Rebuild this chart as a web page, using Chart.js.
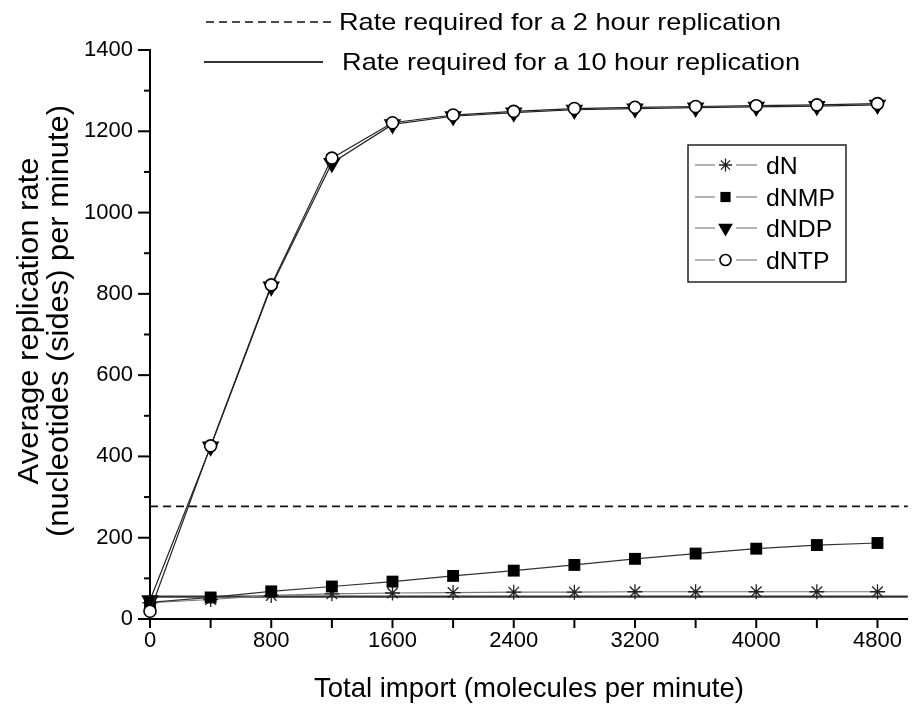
<!DOCTYPE html>
<html>
<head>
<meta charset="utf-8">
<script src="https://cdn.jsdelivr.net/npm/chart.js@4.4.1/dist/chart.umd.min.js"></script>
<style>
html,body{margin:0;padding:0;background:#fff;}
#wrap{width:918px;height:704px;position:relative;}
</style>
</head>
<body>
<div id="wrap"><canvas id="c" width="918" height="704"></canvas></div>
<script>
// ---- data ----
const importX = [0, 400, 800, 1200, 1600, 2000, 2400, 2800, 3200, 3600, 4000, 4400, 4800];
const dN   = [40, 48, 58, 62, 64, 65, 66, 66, 67, 67, 67, 67, 67];
const dNMP = [41, 53, 68, 80, 92, 106, 119, 133, 148, 161, 173, 182, 187];
const dNDP = [46, 424, 818, 1122, 1217, 1237, 1246, 1253, 1256, 1258, 1260, 1262, 1265];
const dNTP = [19, 426, 822, 1134, 1221, 1240, 1249, 1256, 1259, 1261, 1263, 1265, 1268];
const rate2h = 277;
const rate10h = 55;
const xTickLabels = [0, 800, 1600, 2400, 3200, 4000, 4800];
const yTickLabels = [0, 200, 400, 600, 800, 1000, 1200, 1400];
const xMinorStep = 400;
const yMinorStep = 100;
const xRange = [0, 5000];
const yRange = [0, 1400];
const seriesNames = ['dN', 'dNMP', 'dNDP', 'dNTP'];
const refNames = ['Rate required for a 2 hour replication', 'Rate required for a 10 hour replication'];
const xTitle = 'Total import (molecules per minute)';
const yTitle = ['Average replication rate', '(nucleotides (sides) per minute)'];

const FONT = "'Liberation Sans', Arial, Helvetica, sans-serif";
Chart.defaults.font.family = FONT;
Chart.defaults.color = '#000';

const pts = arr => arr.map((v, i) => ({x: importX[i], y: v}));

const styles = {
  dN:   {pointStyle: 'star', radius: 7.5, fill: '#222', stroke: '#222', bw: 1.3, line: '#777'},
  dNMP: {pointStyle: 'rect', radius: 8.4, fill: '#000', stroke: '#000', bw: 0, line: '#333'},
  dNDP: {pointStyle: 'triangle', radius: 10.2, rotation: 180, fill: '#000', stroke: '#000', bw: 0, line: '#222'},
  dNTP: {pointStyle: 'circle', radius: 6, fill: '#fff', stroke: '#000', bw: 1.6, line: '#222'}
};
const seriesData = {dN, dNMP, dNDP, dNTP};
const orders = {dN: 3, dNMP: 2, dNDP: 1, dNTP: 0};

const datasets = seriesNames.map(n => ({
  label: n,
  data: pts(seriesData[n]),
  borderColor: styles[n].line,
  borderWidth: 1.2,
  pointStyle: styles[n].pointStyle,
  pointRadius: styles[n].radius,
  pointRotation: styles[n].rotation || 0,
  pointBackgroundColor: styles[n].fill,
  pointBorderColor: styles[n].stroke,
  pointBorderWidth: styles[n].bw,
  tension: 0,
  order: orders[n],
  clip: false
}));
datasets.push({
  label: refNames[0],
  data: [{x: xRange[0], y: rate2h}, {x: xRange[1], y: rate2h}],
  borderColor: '#111', borderWidth: 1.6, borderDash: [8, 5],
  pointRadius: 0, order: 4, clip: false
});
datasets.push({
  label: refNames[1],
  data: [{x: xRange[0], y: rate10h}, {x: xRange[1], y: rate10h}],
  borderColor: '#333', borderWidth: 2.2,
  pointRadius: 0, order: 5, clip: false
});

function stretchText(ctx, text, x, y, font, width, align) {
  ctx.font = font;
  const w = ctx.measureText(text).width;
  const sx = width ? width / w : 1;
  ctx.save();
  ctx.translate(x, y);
  ctx.scale(sx, 1);
  ctx.textAlign = align || 'left';
  ctx.textBaseline = 'alphabetic';
  ctx.fillText(text, 0, 0);
  ctx.restore();
}

const decor = {
  id: 'decor',
  afterDraw(chart) {
    const ctx = chart.ctx;
    const xs = chart.scales.x, ys = chart.scales.y;
    const left = xs.left, bottom = ys.bottom;
    ctx.save();
    ctx.strokeStyle = '#000';
    ctx.fillStyle = '#000';
    ctx.lineWidth = 2;
    // y ticks (major + minor), outward
    for (let v = yRange[0]; v <= yRange[1]; v += yMinorStep) {
      const py = ys.getPixelForValue(v);
      const len = yTickLabels.includes(v) ? 12 : 6;
      ctx.beginPath(); ctx.moveTo(left - len, py); ctx.lineTo(left + 1, py); ctx.stroke();
    }
    // x ticks, outward
    for (let v = xRange[0]; v <= importX[importX.length - 1]; v += xMinorStep) {
      const px = xs.getPixelForValue(v);
      ctx.beginPath(); ctx.moveTo(px, bottom - 1); ctx.lineTo(px, bottom + 9); ctx.stroke();
    }
    // axis titles
    ctx.fillStyle = '#000';
    stretchText(ctx, xTitle, (xs.left + xs.right) / 2, 697, '28px ' + FONT, 430, 'center');
    ctx.save();
    ctx.translate(38, 321); ctx.rotate(-Math.PI / 2);
    stretchText(ctx, yTitle[0], 0, 0, '29px ' + FONT, 327, 'center');
    ctx.restore();
    ctx.save();
    ctx.translate(68, 321); ctx.rotate(-Math.PI / 2);
    stretchText(ctx, yTitle[1], 0, 0, '29px ' + FONT, 432, 'center');
    ctx.restore();

    // reference-line legend (top)
    ctx.lineWidth = 1.6;
    ctx.strokeStyle = '#111';
    ctx.setLineDash([8, 5]);
    ctx.beginPath(); ctx.moveTo(206, 22); ctx.lineTo(333, 22); ctx.stroke();
    ctx.setLineDash([]);
    ctx.strokeStyle = '#333';
    ctx.lineWidth = 2;
    ctx.beginPath(); ctx.moveTo(204, 62); ctx.lineTo(323, 62); ctx.stroke();
    stretchText(ctx, refNames[0], 339, 30, '24px ' + FONT, 442, 'left');
    stretchText(ctx, refNames[1], 342, 70, '24px ' + FONT, 458, 'left');

    // series legend box
    ctx.lineWidth = 1.5;
    ctx.strokeStyle = '#222';
    ctx.strokeRect(688, 145, 158, 137);
    const rowY = [165, 197, 228, 260];
    seriesNames.forEach((n, i) => {
      const y = rowY[i];
      const st = styles[n];
      ctx.strokeStyle = '#666';
      ctx.lineWidth = 1.2;
      ctx.beginPath(); ctx.moveTo(695, y); ctx.lineTo(715, y); ctx.moveTo(736, y); ctx.lineTo(757, y); ctx.stroke();
      ctx.fillStyle = st.fill;
      ctx.strokeStyle = st.stroke;
      ctx.lineWidth = st.bw;
      const r = st.pointStyle === 'triangle' ? 8.5 : (st.pointStyle === 'rect' ? 7.2 : (st.pointStyle === 'star' ? 6.5 : 5.5));
      Chart.helpers.drawPoint(ctx, {pointStyle: st.pointStyle, radius: r, rotation: st.rotation || 0, borderWidth: st.bw}, 725.5, y);
      ctx.fillStyle = '#000';
      ctx.font = '23px ' + FONT;
      const sx = 69 / ctx.measureText('dNMP').width;
      ctx.save(); ctx.translate(766, y + 8.5); ctx.scale(sx, 1);
      ctx.textAlign = 'left'; ctx.textBaseline = 'alphabetic';
      ctx.fillText(n, 0, 0); ctx.restore();
    });
    ctx.restore();
  }
};

new Chart(document.getElementById('c'), {
  type: 'line',
  data: {datasets},
  options: {
    responsive: false,
    animation: false,
    events: [],
    layout: {padding: {top: 50, right: 1, left: 0, bottom: 0}},
    plugins: {legend: {display: false}, tooltip: {enabled: false}},
    scales: {
      x: {
        type: 'linear', min: xRange[0], max: xRange[1],
        afterFit: s => { s.height = 85; },
        afterBuildTicks: s => { s.ticks = xTickLabels.map(v => ({value: v})); },
        grid: {display: false, drawTicks: false},
        border: {display: true, color: '#000', width: 2},
        ticks: {font: {size: 22}, color: '#000', padding: 9, maxRotation: 0, autoSkip: false, callback: v => String(v)}
      },
      y: {
        type: 'linear', min: yRange[0], max: yRange[1],
        afterFit: s => { s.width = 150; },
        afterBuildTicks: s => { s.ticks = yTickLabels.map(v => ({value: v})); },
        grid: {display: false, drawTicks: false},
        border: {display: true, color: '#000', width: 2},
        ticks: {font: {size: 22}, color: '#000', padding: 17, callback: v => String(v)}
      }
    }
  },
  plugins: [decor]
});
</script>
</body>
</html>
